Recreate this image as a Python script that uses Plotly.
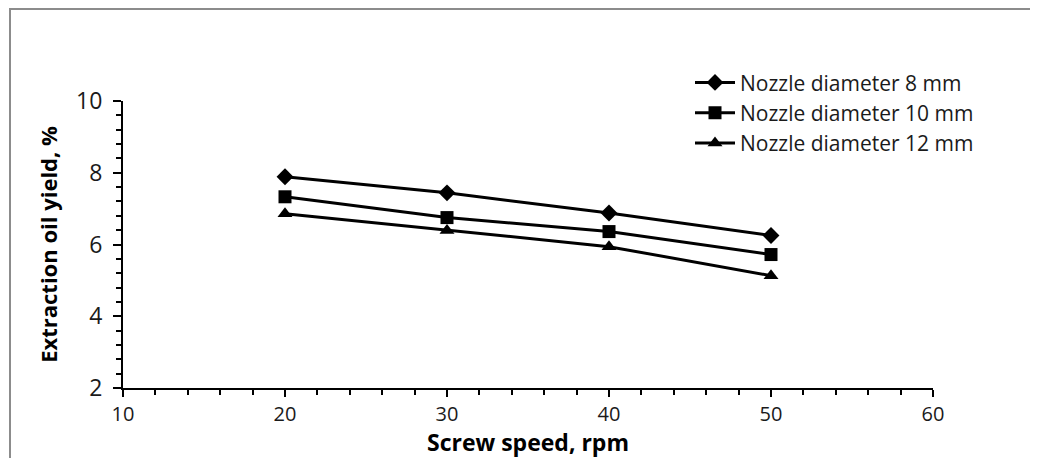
import plotly.graph_objects as go

screw_speed = [20, 30, 40, 50]
yield_8mm = [7.89, 7.44, 6.88, 6.25]
yield_10mm = [7.33, 6.75, 6.36, 5.72]
yield_12mm = [6.86, 6.39, 5.94, 5.13]
series_names = ["Nozzle diameter 8 mm", "Nozzle diameter 10 mm", "Nozzle diameter 12 mm"]
x_ticks = [10, 20, 30, 40, 50, 60]
y_ticks = [2, 4, 6, 8, 10]

FONT = "Open Sans, Carlito, Calibri, sans-serif"

fig = go.Figure()
symbols = ["diamond", "square", "triangle-up"]
sizes = [13, 13, 13]
for name, ys, sym, sz in zip(series_names, [yield_8mm, yield_10mm, yield_12mm], symbols, sizes):
    fig.add_trace(go.Scatter(
        x=screw_speed, y=ys, name=name, mode="lines+markers",
        line=dict(color="black", width=3),
        marker=dict(symbol=sym, size=sz, color="black"),
    ))

fig.update_layout(
    width=1022, height=450,
    margin=dict(l=115, r=97, t=93, b=70),
    paper_bgcolor="white", plot_bgcolor="white",
    font=dict(family=FONT, color="black", size=21),
    showlegend=True,
    legend=dict(x=0.70, y=1.135, xanchor="left", yanchor="top",
                font=dict(size=21, family=FONT, color="#1a1a1a"), bgcolor="rgba(0,0,0,0)",
                tracegroupgap=0, itemwidth=40),
    xaxis=dict(
        range=[10, 60], tickvals=x_ticks, ticks="outside", ticklen=7, tickwidth=2,
        tickcolor="black", showline=True, linecolor="black", linewidth=2,
        showgrid=False, zeroline=False, ticklabelstandoff=0, automargin=False,
        minor=dict(dtick=2, ticks="outside", ticklen=5, tickwidth=2, tickcolor="black"),
        title=dict(text="<b>Screw speed, rpm</b>", font=dict(size=23, family=FONT), standoff=0),
        tickfont=dict(size=20, family=FONT, color="#1a1a1a"),
    ),
    yaxis=dict(
        range=[2, 10], tickvals=y_ticks, ticks="outside", ticklen=8, tickwidth=2,
        tickcolor="black", showline=True, linecolor="black", linewidth=2,
        showgrid=False, zeroline=False, ticklabelstandoff=6, automargin=False,
        minor=dict(dtick=0.4, ticks="outside", ticklen=5, tickwidth=2, tickcolor="black"),
        title=dict(text="<b>Extraction oil yield, %</b>", font=dict(size=22, family=FONT), standoff=12),
        tickfont=dict(size=23, family=FONT, color="#1a1a1a"),
    ),
    shapes=[dict(type="rect", xref="paper", yref="paper",
                 x0=-0.1395, x1=1.3, y0=-0.5, y1=1.3206,
                 line=dict(color="#8c8c8c", width=2), fillcolor="rgba(0,0,0,0)", layer="below")],
)

fig.write_html("out.html")
